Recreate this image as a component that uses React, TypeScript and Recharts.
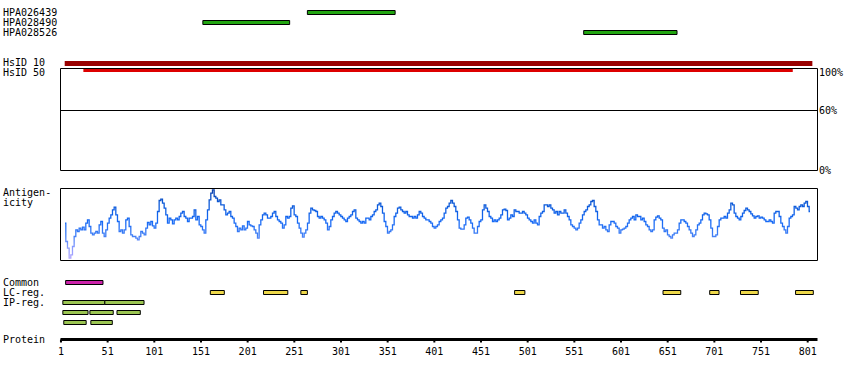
import React from 'react';
import {
  BarChart,
  Bar,
  Cell,
  ComposedChart,
  LineChart,
  Line,
  XAxis,
  YAxis,
  ReferenceArea,
  ReferenceLine,
} from 'recharts';

const W = 850;
const H = 380;
const FONT = '"DejaVu Sans Mono", monospace';
// residue domain shared by every panel (protein is 811 aa)
const X_DOMAIN: [number, number] = [0.5, 811.5];

// antibodies (residue ranges)
const HPA_NAMES = ['HPA026439', 'HPA028490', 'HPA028526'];
const HPA_SPANS: Array<[number, number]> = [
  [265, 359],
  [153, 246],
  [561, 661],
];

// sequence identity
const HSID_10: [number, number] = [5, 806];
const HSID_50: [number, number] = [25, 785];

// conservation panel (no values shown, only the scale)
const CONS_TICKS = [0, 60, 100];

// antigenicity profile, sampled every ANTI_STEP residues from ANTI_START
const ANTI_START = 5.3;
const ANTI_STEP = 1.7856;
const ANTIGENICITY = [
  112, 57, 37, 7, 17, 42, 72, 92, 87, 97, 92, 100, 92, 112, 122, 102, 82, 77, 82, 87,
  82, 107, 117, 82, 72, 92, 112, 127, 137, 152, 160, 137, 117, 87, 92, 82, 92, 122, 127, 102,
  77, 72, 72, 67, 62, 72, 87, 82, 77, 97, 114, 107, 117, 104, 97, 112, 147, 180, 184, 172,
  157, 137, 112, 127, 122, 110, 122, 127, 122, 132, 142, 147, 132, 127, 117, 127, 127, 132, 152, 122,
  132, 107, 102, 92, 82, 122, 152, 182, 202, 212, 192, 187, 177, 182, 167, 167, 152, 137, 142, 147,
  132, 127, 112, 102, 87, 97, 92, 104, 92, 97, 117,
  107, 104, 102, 92, 82, 67, 107, 122, 137, 142, 137, 127, 127, 132, 142, 147, 132, 122, 117, 112,
  97, 107, 132, 127, 132, 157, 164, 137, 132, 112, 97, 82, 70, 82, 92, 112, 142, 157, 152, 150,
  147, 132, 127, 132, 127, 122, 112, 92, 102, 122, 132, 142, 147, 142, 137, 132, 127, 122, 117, 127,
  132, 137, 147, 152, 127, 122, 117, 112, 117, 112, 127, 127, 122, 132, 137, 147, 152, 167, 172, 162,
  142, 117, 102, 82, 87, 92, 107, 132, 142, 157, 160, 152, 147, 142, 147, 137, 132, 132, 127, 132,
  127, 137, 147, 142, 132, 127, 122, 122, 117, 112, 102, 97, 102, 107,
  117, 122, 127, 142, 157, 162, 172, 180, 172, 162, 147, 122, 97, 94, 94, 107, 127, 130, 122, 112,
  97, 82, 82, 102, 117, 122, 152, 167, 157, 147, 132, 127, 117, 122, 117, 122, 127, 137, 152, 154,
  150, 122, 127, 137, 132, 152, 147, 147, 142, 142, 147, 142, 137, 127, 122, 117, 112, 122, 112, 107,
  132, 142, 147, 167, 167, 162, 167, 157, 152, 142, 147, 137, 147, 142, 142, 152, 142, 132, 122, 107,
  102, 97, 92, 97, 112, 122, 137, 147, 152, 162, 167, 177, 180, 162, 147, 122, 107, 107, 97, 102,
  92, 87, 107, 117, 117, 112, 102, 97, 82, 92, 94, 97, 102, 112,
  122, 127, 132, 122, 137, 132, 132, 122, 127, 117, 107, 102, 92, 87, 92, 122, 130, 134, 127, 122,
  97, 87, 92, 77, 72, 67, 77, 82, 82, 92, 112, 122, 122, 117, 112, 102, 92, 82, 72, 77,
  92, 107, 112, 122, 137, 142, 140, 137, 122, 97, 72, 72, 77, 102, 122, 127, 127, 132, 127, 142,
  152, 172, 167, 142, 132, 127, 122, 132, 142, 150, 157, 152, 147, 140, 134, 127, 132, 134, 127, 130,
  127, 122, 117, 117, 122, 117, 112, 142, 147, 147, 132, 112, 102, 92, 82, 102, 127, 132, 137, 162,
  157, 152, 162, 167, 162, 172, 177, 162, 147,
];
const ANTI_MAX = 216;

// annotation tracks
const COMMON: Array<[number, number]> = [[6, 46]];
const LC_REG: Array<[number, number]> = [
  [161, 176],
  [218, 244],
  [258, 265],
  [487, 498],
  [646, 665],
  [696, 706],
  [729, 748],
  [788, 807],
];
const IP_REG_1: Array<[number, number]> = [
  [3, 48],
  [48, 90],
];
const IP_REG_2: Array<[number, number]> = [
  [3, 30],
  [32, 57],
  [61, 86],
];
const IP_REG_3: Array<[number, number]> = [
  [4, 28],
  [33, 56],
];

const PROTEIN_TICKS = [1, 51, 101, 151, 201, 251, 301, 351, 401, 451, 501, 551, 601, 651, 701, 751, 801];

const TRACK_COLOR: Record<string, string> = {
  HPA: '#22a511',
  Common: '#cc22aa',
  'LC-reg.': '#eed84a',
  'IP-reg.': '#9bc552',
  'IP-reg.#2': '#9bc552',
  'IP-reg.#3': '#9bc552',
};
// label baseline nudges (px) where the label does not sit on its bar
const LABEL_SHIFT: Record<string, number> = { 'HsID 50': 3 };

const layer: React.CSSProperties = { position: 'absolute', left: 0, top: 0 };

function TrackTick(props: any) {
  const { y, payload } = props;
  const name = String(payload.value);
  const label = name.includes('#') ? '' : name;
  return (
    <text x={3} y={y + (LABEL_SHIFT[name] ?? 0)} dy="0.35em" fontFamily={FONT} fontSize={10} fill="#000">
      {label}
    </text>
  );
}

function PercentTick(props: any) {
  const { y, payload } = props;
  const v = payload.value as number;
  return (
    <text x={819} y={y + (v === 100 ? 2 : 0)} dy="0.35em" fontFamily={FONT} fontSize={10} fill="#000">
      {`${v}%`}
    </text>
  );
}

export default function App() {
  const hpaRows = HPA_NAMES.map((name, i) => ({ track: name, spans: [HPA_SPANS[i]] }));
  const idRows = [
    { track: 'HsID 10', id10: HSID_10 },
    { track: 'HsID 50', id50: HSID_50 },
  ];
  const annotRows = [
    { track: 'Common', spans: COMMON },
    { track: 'LC-reg.', spans: LC_REG },
    { track: 'IP-reg.', spans: IP_REG_1 },
    { track: 'IP-reg.#2', spans: IP_REG_2 },
    { track: 'IP-reg.#3', spans: IP_REG_3 },
  ];
  const maxSeg = Math.max(...annotRows.map((r) => r.spans.length));
  const antiData = ANTIGENICITY.map((score, i) => ({ pos: ANTI_START + i * ANTI_STEP, score }));
  // conservation track has no scores; only residue positions anchor the frame
  const consData = PROTEIN_TICKS.map((pos) => ({ pos }));

  return (
    <div style={{ position: 'absolute', left: 0, top: 0, width: W, height: H, background: '#fff', overflow: 'hidden' }}>
      {/* conservation box (drawn first, identity bars overlap its top edge) */}
      <div style={layer}>
        <ComposedChart width={W} height={H} data={consData} margin={{ top: 68.5, bottom: 209.5, left: 60.5, right: 0 }}>
          <XAxis type="number" dataKey="pos" domain={X_DOMAIN} allowDataOverflow hide />
          <YAxis
            orientation="right"
            type="number"
            domain={[0, 102]}
            allowDataOverflow
            ticks={CONS_TICKS}
            interval={0}
            width={32.5}
            axisLine={false}
            tickLine={false}
            tick={<PercentTick />}
          />
          <ReferenceArea x1={X_DOMAIN[0]} x2={X_DOMAIN[1]} y1={0} y2={102} fill="none" stroke="#000" strokeWidth={1} ifOverflow="visible" />
          <ReferenceLine y={60} stroke="#000" strokeWidth={1} />
        </ComposedChart>
      </div>

      {/* antibodies */}
      <div style={layer}>
        <BarChart width={W} height={H} data={hpaRows} layout="vertical" margin={{ top: 7.5, bottom: 342.5, left: 0, right: 32.5 }}>
          <XAxis type="number" domain={X_DOMAIN} allowDataOverflow hide />
          <YAxis type="category" dataKey="track" width={60.5} interval={0} axisLine={false} tickLine={false} tick={<TrackTick />} />
          <Bar
            dataKey={(d: any) => d.spans[0]}
            barSize={4}
            fill={TRACK_COLOR.HPA}
            stroke="#000"
            strokeWidth={1}
            isAnimationActive={false}
          />
        </BarChart>
      </div>

      {/* identity */}
      <div style={layer}>
        <BarChart
          width={W}
          height={H}
          data={idRows}
          layout="vertical"
          barGap={-4}
          margin={{ top: 59, bottom: 307, left: 0, right: 32.5 }}
        >
          <XAxis type="number" domain={X_DOMAIN} allowDataOverflow hide />
          <YAxis type="category" dataKey="track" width={60.5} interval={0} axisLine={false} tickLine={false} tick={<TrackTick />} />
          <Bar dataKey="id10" barSize={5} fill="#990000" isAnimationActive={false} />
          <Bar dataKey="id50" barSize={3} fill="#dd0000" isAnimationActive={false} />
        </BarChart>
      </div>

      {/* antigenicity */}
      <div style={layer}>
        <LineChart width={W} height={H} data={antiData} margin={{ top: 188.5, bottom: 119.5, left: 60.5, right: 32.5 }}>
          <defs>
            <linearGradient id="antiGrad" x1="0" y1="188.5" x2="0" y2="260.5" gradientUnits="userSpaceOnUse">
              <stop offset="0" stopColor="#0a3da6" />
              <stop offset="0.2" stopColor="#0b58d6" />
              <stop offset="0.45" stopColor="#1468f5" />
              <stop offset="0.65" stopColor="#3f7ef5" />
              <stop offset="0.82" stopColor="#8a9cff" />
              <stop offset="1" stopColor="#b8a8ff" />
            </linearGradient>
          </defs>
          <XAxis type="number" dataKey="pos" domain={X_DOMAIN} allowDataOverflow hide />
          <YAxis type="number" domain={[0, ANTI_MAX]} hide />
          <ReferenceArea x1={X_DOMAIN[0]} x2={X_DOMAIN[1]} y1={0} y2={ANTI_MAX} fill="none" stroke="#000" strokeWidth={1} ifOverflow="visible" />
          <Line dataKey="score" type="step" stroke="url(#antiGrad)" strokeWidth={1.3} dot={false} activeDot={false} isAnimationActive={false} />
        </LineChart>
      </div>

      {/* annotation tracks */}
      <div style={layer}>
        <BarChart
          width={W}
          height={H}
          data={annotRows}
          layout="vertical"
          barGap={-4}
          margin={{ top: 277.5, bottom: 52.5, left: 0, right: 32.5 }}
        >
          <XAxis type="number" domain={X_DOMAIN} allowDataOverflow hide />
          <YAxis type="category" dataKey="track" width={60.5} interval={0} axisLine={false} tickLine={false} tick={<TrackTick />} />
          {Array.from({ length: maxSeg }, (_, k) => (
            <Bar
              key={k}
              dataKey={(d: any) => d.spans[k]}
              barSize={4}
              stroke="#000"
              strokeWidth={1}
              isAnimationActive={false}
            >
              {annotRows.map((r) => (
                <Cell key={r.track} fill={TRACK_COLOR[r.track]} />
              ))}
            </Bar>
          ))}
        </BarChart>
      </div>

      {/* protein axis */}
      <div style={layer}>
        <ComposedChart width={W} height={H} data={[]} margin={{ top: 330, bottom: 10.5, left: 60.5, right: 32.5 }}>
          <XAxis
            type="number"
            dataKey="pos"
            domain={X_DOMAIN}
            allowDataOverflow
            ticks={PROTEIN_TICKS}
            interval={0}
            height={30}
            axisLine={{ stroke: '#000', strokeWidth: 3 }}
            tickLine={{ stroke: '#000', strokeWidth: 2 }}
            tickSize={3}
            tickMargin={5}
            tick={{ fill: '#000', fontSize: 10, fontFamily: FONT }}
          />
          <YAxis hide />
        </ComposedChart>
      </div>

      {/* panel labels */}
      <svg width={W} height={H} style={layer}>
        <g fontFamily={FONT} fontSize={10} fill="#000">
          <text x={3} y={196}>Antigen-</text>
          <text x={3} y={206}>icity</text>
          <text x={3} y={343}>Protein</text>
        </g>
      </svg>
    </div>
  );
}
